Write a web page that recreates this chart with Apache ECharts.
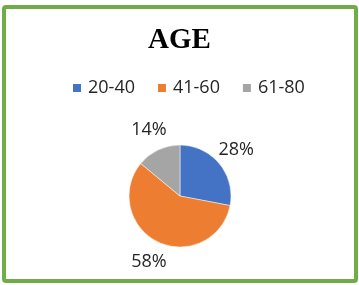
<!DOCTYPE html>
<html>
<head>
<meta charset="utf-8">
<script src="https://cdn.jsdelivr.net/npm/echarts@6/dist/echarts.min.js"></script>
<style>
  html, body { margin: 0; padding: 0; background: #fff; }
  #chart { width: 359px; height: 285px; }
</style>
</head>
<body>
<div id="chart"></div>
<script>
const categories = ['20-40', '41-60', '61-80'];
const shares = [28, 58, 14];
const colors = ['#4472C4', '#ED7D31', '#A5A5A5'];

const pieCenter = [180, 196];
const pieRadius = 51;
const labelDist = 73;

const myChart = echarts.init(document.getElementById('chart'));

// mid angle of each slice, clockwise from 12 o'clock
const total = shares.reduce((a, b) => a + b, 0);
let acc = 0;
const midAngles = shares.map(v => {
  const mid = (acc + v / 2) / total * Math.PI * 2;
  acc += v;
  return mid;
});

const option = {
  animation: false,
  color: colors,
  title: {
    text: 'AGE',
    left: 'center',
    top: 21,
    textStyle: {
      fontFamily: 'Liberation Serif',
      fontWeight: 'bold',
      fontSize: 29,
      color: '#000'
    }
  },
  legend: {
    top: 74,
    left: 66,
    icon: 'rect',
    itemWidth: 10,
    itemHeight: 10,
    itemGap: 21,
    textStyle: {
      fontFamily: 'Open Sans',
      fontSize: 18,
      color: '#262626',
      padding: [0, 0, 0, 1]
    },
    data: categories
  },
  graphic: [
    {
      type: 'rect',
      shape: { x: 4, y: 7, width: 352, height: 274, r: 2 },
      style: { fill: 'none', stroke: '#70AD47', lineWidth: 4 }
    }
  ],
  series: [
    {
      type: 'pie',
      center: pieCenter,
      radius: pieRadius,
      startAngle: 90,
      clockwise: true,
      label: {
        show: true,
        position: 'outside',
        formatter: '{c}%',
        fontFamily: 'Open Sans',
        fontSize: 18,
        color: '#262626'
      },
      labelLine: { show: false },
      labelLayout: function (params) {
        const a = midAngles[params.dataIndex];
        return {
          x: pieCenter[0] + Math.sin(a) * labelDist,
          y: pieCenter[1] - Math.cos(a) * labelDist,
          align: 'center',
          verticalAlign: 'middle'
        };
      },
      itemStyle: { borderColor: '#fff', borderWidth: 0.5 },
      data: categories.map((name, i) => ({ name: name, value: shares[i] }))
    }
  ]
};

myChart.setOption(option);
</script>
</body>
</html>
